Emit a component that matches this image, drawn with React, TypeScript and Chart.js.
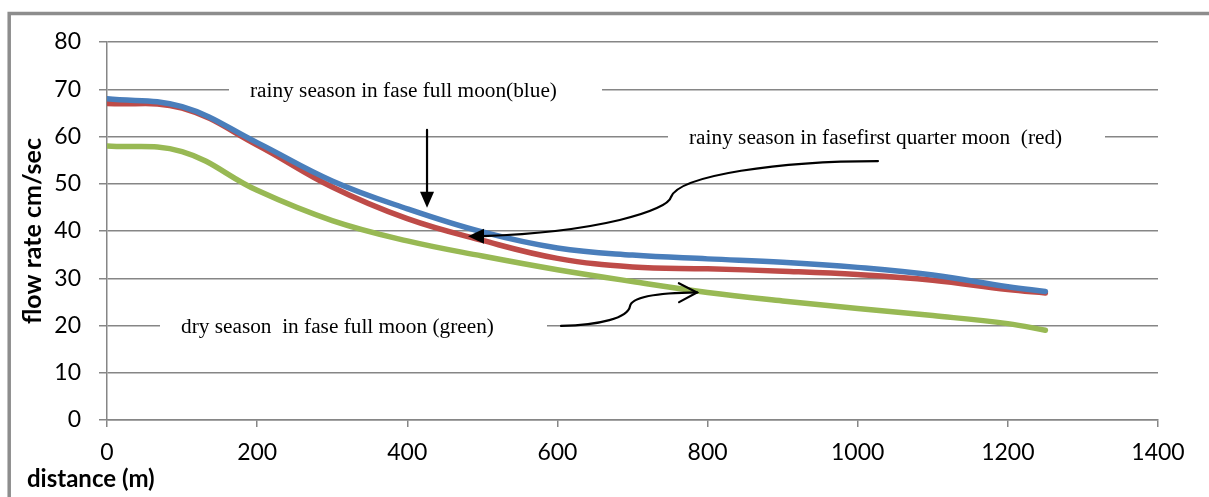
import React, { useEffect, useRef } from "react";
import { Chart, registerables } from "chart.js";

Chart.register(...registerables);

// ---- data ----
const distances = [0, 100, 200, 300, 400, 500, 600, 700, 800, 900, 1000, 1100, 1200, 1250];
const blueRainyFullMoon = [68, 66.3, 58.7, 50.6, 44.7, 39.8, 36.4, 34.9, 34.1, 33.4, 32.3, 30.7, 28.2, 27.2];
const redRainyFirstQuarter = [67, 66, 58.2, 49.3, 42.6, 38, 34.2, 32.4, 32, 31.5, 30.8, 29.6, 27.6, 26.9];
const greenDryFullMoon = [58, 56.8, 48.6, 42.2, 37.9, 34.7, 31.8, 29.3, 27, 25.2, 23.6, 22.1, 20.4, 19];

const yTickValues = [0, 10, 20, 30, 40, 50, 60, 70, 80];
const xTickValues = [0, 200, 400, 600, 800, 1000, 1200, 1400];

const yTitle = "flow rate cm/sec";
const xTitle = "distance (m)";

// annotation texts (data coordinates)
const noteTexts = [
  "rainy season in fase full moon(blue)",
  "rainy season in fasefirst quarter moon  (red)",
  "dry season  in fase full moon (green)",
];
const noteTextX = [190.5, 775.3, 98.6];
const noteTextY = [70, 60, 20];
const noteGapStartX = [162.5, 747.3, 70.6];
const noteGapEndX = [659.4, 1329.4, 586.1];

// arrows (data coordinates)
const downArrowX = 426.3;
const downArrowY = [61.4, 44.9];
// cubic bezier chain: start, cp1, cp2, end, cp1, cp2, end
const redArrowPath = [
  [1027, 54.8], [896.5, 54.8], [763.3, 51.85], [751.3, 47.2],
  [747.3, 44.4], [656.7, 39.8], [500.9, 38.9],
];
const redArrowTip = [480.9, 38.9];
const greenArrowPath = [
  [604.8, 19.9], [656.7, 20.1], [694, 21.6], [696.7, 24.1],
  [699.3, 26.2], [736.6, 26.9], [785.9, 27.0],
];

const GRID = "#868686";
const TICK_FONT = "Lato";

const annotationPlugin = {
  id: "annotationsAndFrame",
  beforeDraw(chart: any) {
    const ctx = chart.ctx;
    ctx.save();
    ctx.strokeStyle = "#8d8d8d";
    ctx.lineWidth = 3.5;
    ctx.beginPath();
    ctx.moveTo(9.2, chart.height);
    ctx.lineTo(9.2, 13.5);
    ctx.lineTo(chart.width, 13.5);
    ctx.stroke();
    ctx.restore();
  },
  beforeDatasetsDraw(chart: any) {
    const ctx = chart.ctx;
    const xs = chart.scales.x;
    const ys = chart.scales.y;
    ctx.save();
    for (let i = 0; i < noteTexts.length; i++) {
      const y = ys.getPixelForValue(noteTextY[i]);
      const x0 = xs.getPixelForValue(noteGapStartX[i]);
      const x1 = Math.min(xs.getPixelForValue(noteGapEndX[i]), chart.chartArea.right + 2);
      ctx.fillStyle = "#ffffff";
      ctx.fillRect(x0, y - 12, x1 - x0, 24);
      ctx.fillStyle = "#000000";
      ctx.font = '21.3px "Liberation Serif"';
      ctx.textBaseline = "alphabetic";
      ctx.textAlign = "left";
      ctx.fillText(noteTexts[i], xs.getPixelForValue(noteTextX[i]), y + 7.5);
    }
    ctx.restore();
  },
  afterDatasetsDraw(chart: any) {
    const ctx = chart.ctx;
    const xs = chart.scales.x;
    const ys = chart.scales.y;
    const P = (p: number[]) => [xs.getPixelForValue(p[0]), ys.getPixelForValue(p[1])];
    ctx.save();
    ctx.strokeStyle = "#000";
    ctx.fillStyle = "#000";
    ctx.lineWidth = 2.2;
    ctx.lineCap = "round";

    // down arrow
    const dx = xs.getPixelForValue(downArrowX);
    const dy0 = ys.getPixelForValue(downArrowY[0]);
    const dy1 = ys.getPixelForValue(downArrowY[1]);
    ctx.beginPath();
    ctx.moveTo(dx, dy0);
    ctx.lineTo(dx, dy1 - 14);
    ctx.stroke();
    ctx.beginPath();
    ctx.moveTo(dx, dy1);
    ctx.lineTo(dx - 7, dy1 - 16);
    ctx.lineTo(dx + 7, dy1 - 16);
    ctx.closePath();
    ctx.fill();

    const drawChain = (path: number[][]) => {
      const pts = path.map(P);
      ctx.beginPath();
      ctx.moveTo(pts[0][0], pts[0][1]);
      for (let i = 1; i + 2 < pts.length; i += 3) {
        ctx.bezierCurveTo(pts[i][0], pts[i][1], pts[i + 1][0], pts[i + 1][1], pts[i + 2][0], pts[i + 2][1]);
      }
      ctx.stroke();
      return pts;
    };

    // red arrow with filled head
    const rp = drawChain(redArrowPath);
    const base = rp[rp.length - 1];
    const tip = P(redArrowTip);
    {
      const ang = Math.atan2(tip[1] - base[1], tip[0] - base[0]);
      const len = 16, hw = 7.5;
      const bx = tip[0] - Math.cos(ang) * len;
      const by = tip[1] - Math.sin(ang) * len;
      ctx.beginPath();
      ctx.moveTo(tip[0], tip[1]);
      ctx.lineTo(bx - Math.sin(ang) * hw, by + Math.cos(ang) * hw);
      ctx.lineTo(bx + Math.sin(ang) * hw, by - Math.cos(ang) * hw);
      ctx.closePath();
      ctx.fill();
    }

    // green arrow with open head
    const gp = drawChain(greenArrowPath);
    {
      const t = gp[gp.length - 1];
      const c = gp[gp.length - 2];
      const ang = Math.atan2(t[1] - c[1], t[0] - c[0]);
      const len = 18, hw = 9.5;
      const bx = t[0] - Math.cos(ang) * len;
      const by = t[1] - Math.sin(ang) * len;
      ctx.beginPath();
      ctx.moveTo(bx - Math.sin(ang) * hw, by + Math.cos(ang) * hw);
      ctx.lineTo(t[0], t[1]);
      ctx.lineTo(bx + Math.sin(ang) * hw, by - Math.cos(ang) * hw);
      ctx.stroke();
    }
    ctx.restore();
  },
  afterDraw(chart: any) {
    const ctx = chart.ctx;
    const ca = chart.chartArea;
    ctx.save();
    ctx.fillStyle = "#000";
    ctx.font = `bold 25px "${TICK_FONT}"`;
    ctx.textAlign = "center";
    ctx.textBaseline = "middle";
    ctx.translate(33, (ca.top + ca.bottom) / 2);
    ctx.rotate(-Math.PI / 2);
    ctx.fillText(yTitle, 0, 0);
    ctx.restore();

    ctx.save();
    ctx.fillStyle = "#000";
    ctx.font = `bold 24px "${TICK_FONT}"`;
    ctx.textAlign = "left";
    ctx.textBaseline = "alphabetic";
    ctx.fillText(xTitle, 27, 487);
    ctx.restore();
  },
};

function makeSeries(values: number[]) {
  return distances.map((d, i) => ({ x: d, y: values[i] }));
}

export default function App() {
  const canvasRef = useRef<HTMLCanvasElement | null>(null);

  useEffect(() => {
    const canvas = canvasRef.current;
    if (!canvas) return;
    const lineStyle = {
      borderWidth: 5.5,
      pointRadius: 0,
      pointHoverRadius: 0,
      fill: false,
      tension: 0.4,
      borderCapStyle: "round" as const,
      borderJoinStyle: "round" as const,
    };
    const chart = new Chart(canvas, {
      type: "line",
      data: {
        datasets: [
          { label: "green", data: makeSeries(greenDryFullMoon), borderColor: "#98B954", ...lineStyle },
          { label: "blue", data: makeSeries(blueRainyFullMoon), borderColor: "#4A7EBB", ...lineStyle },
          { label: "red", data: makeSeries(redRainyFirstQuarter), borderColor: "#BE4B48", ...lineStyle },
        ],
      },
      options: {
        animation: false,
        responsive: false,
        devicePixelRatio: 1,
        events: [],
        layout: { padding: { left: 0, top: 42, right: 51, bottom: 0 } },
        plugins: {
          legend: { display: false },
          tooltip: { enabled: false },
          title: { display: false },
        },
        scales: {
          x: {
            type: "linear",
            min: 0,
            max: 1400,
            afterBuildTicks: (scale: any) => {
              scale.ticks = xTickValues.map((v) => ({ value: v }));
            },
            afterFit: (scale: any) => {
              scale.height = 77;
            },
            grid: {
              display: true,
              drawOnChartArea: false,
              drawTicks: true,
              tickLength: 7,
              color: GRID,
              lineWidth: 1.5,
            },
            border: { display: true, color: GRID, width: 1.5 },
            ticks: {
              color: "#000",
              font: { family: TICK_FONT, size: 23 },
              padding: 12,
              maxRotation: 0,
              autoSkip: false,
              callback: (v: any) => String(v),
            },
          },
          y: {
            type: "linear",
            min: 0,
            max: 80,
            afterBuildTicks: (scale: any) => {
              scale.ticks = yTickValues.map((v) => ({ value: v }));
            },
            afterFit: (scale: any) => {
              scale.width = 107;
            },
            grid: {
              display: true,
              drawOnChartArea: true,
              drawTicks: true,
              tickLength: 8,
              color: GRID,
              lineWidth: 1.5,
            },
            border: { display: true, color: GRID, width: 1.5 },
            ticks: {
              color: "#000",
              font: { family: TICK_FONT, size: 23 },
              padding: 18,
              autoSkip: false,
              callback: (v: any) => String(v),
            },
          },
        },
      },
      plugins: [annotationPlugin],
    });
    return () => chart.destroy();
  }, []);

  return (
    <div style={{ position: "fixed", left: 0, top: 0, width: 1209, height: 497, background: "#fff" }}>
      <canvas ref={canvasRef} width={1209} height={497} style={{ width: 1209, height: 497, display: "block" }} />
    </div>
  );
}
